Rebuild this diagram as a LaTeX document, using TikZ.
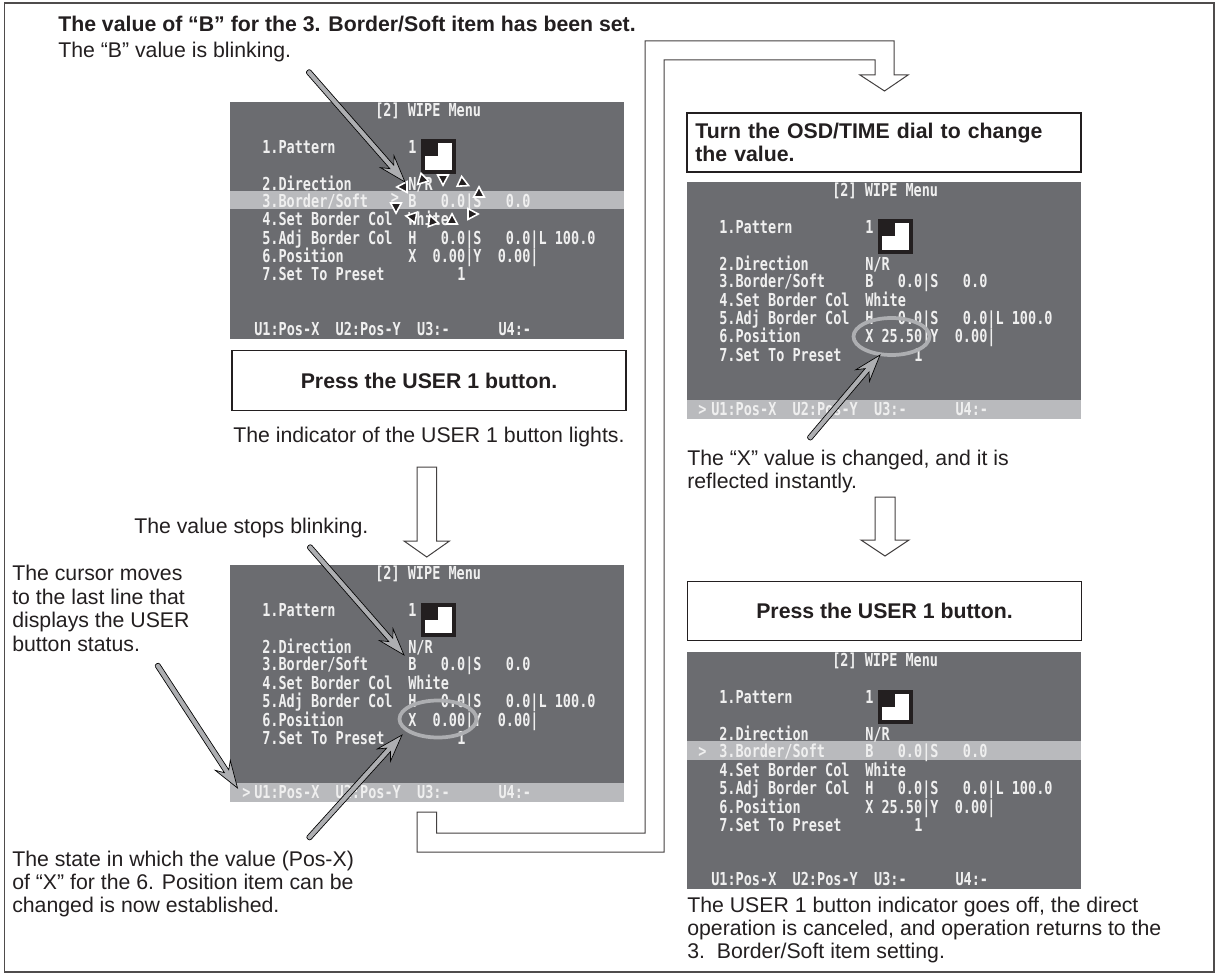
\documentclass[tikz,border=0pt]{standalone}
\usepackage{fontspec}
\usetikzlibrary{calc}
\setmainfont{Liberation Sans}
\newfontfamily\osdfont[FakeStretch=0.757]{DejaVu Sans Mono Bold}
\definecolor{scr}{HTML}{6B6C70}
\definecolor{hl}{HTML}{B9BABD}
\definecolor{ink}{HTML}{231F20}
\definecolor{osdtxt}{HTML}{EFEFEF}
\definecolor{calloutfill}{HTML}{ADAEB1}
\tikzset{
  x=0.75pt,y=-0.75pt,
  txt/.style={inner sep=0pt,anchor=west,align=left,text=ink,font=\fontsize{15.95}{17.6}\selectfont},
  stepbox/.style={draw=ink,line width=1.2pt,fill=white,inner sep=0pt,minimum width=295.5pt,text=ink,font=\fontsize{15.95}{17.6}\selectfont\bfseries},
  osd/.style={inner sep=0pt,anchor=base west,text=osdtxt,font=\osdfont\fontsize{13.4}{14}\selectfont},
  hollow/.style={draw=ink!85,line width=0.75pt,fill=white,line join=miter},
  callout/.style={draw=black,line width=0.5pt,fill=calloutfill,line join=miter},
  ring/.style={draw=calloutfill,line width=2.8pt},
  blink/.style={draw=white,line width=1.2pt,fill=ink,line join=miter},
}
% name, left, top, highlight top, X value line, cursor position
\newcommand{\wipescreen}[6]{%
  \begin{scope}[shift={(#2,#3)}]
    \fill[scr] (0,0) rectangle (394,237);
    \fill[hl] (0,#4) rectangle (394,#4+18.5);
    \node[osd] (#1t) at (145,14.5) {[2] WIPE Menu};
    \node[osd] (#1a) at (32,51.5) {1.Pattern};
    \node[osd] (#1b) at (178,51.5) {1};
    \fill[ink] (190.5,37.5) rectangle (225.5,72);
    \fill[white] (194.5,41.5) rectangle (221.5,68);
    \fill[ink] (194.5,41.5) rectangle (208,54.5);
    \node[osd] (#1c) at (32,88.5) {2.Direction};
    \node[osd] (#1d) at (178,88.5) {N/R};
    \node[osd] (#1e) at (32,105.5) {3.Border/Soft};
    \node[osd] (#1f) at (178,105.5) {B~~~0.0|S~~~0.0};
    \node[osd] (#1g) at (32,124) {4.Set Border Col};
    \node[osd] (#1h) at (178,124) {White};
    \node[osd] (#1i) at (32,142.5) {5.Adj Border Col};
    \node[osd] (#1j) at (178,142.5) {H~~~0.0|S~~~0.0|L 100.0};
    \node[osd] (#1k) at (32,161) {6.Position};
    \node[osd] (#1l) at (178,161) {#5};
    \node[osd] (#1m) at (32,179) {7.Set To Preset};
    \node[osd] (#1n) at (227,179) {1};
    \node[osd] (#1o) at (24,233) {U1:Pos-X~~U2:Pos-Y~~U3:-~~~~~~U4:-};
    \ifx&#6&\else\node[osd] (#1p) at #6 {>};\fi
  \end{scope}}
% gray callout arrow from coordinate to coordinate
\newcommand{\callarrow}[2]{%
  \path let \p1=($(#2)-(#1)$), \n1={atan2(\y1,\x1)}, \n2={veclen(\x1,\y1)} in
    [shift={(#2)},rotate=\n1,callout] (0pt,0pt) -- (-20.25pt,6.75pt) -- (-15pt,1.95pt) -- ({-\n2+1.95pt},1.95pt)
    .. controls ({-\n2},1.95pt) and ({-\n2},-1.95pt) .. ({-\n2+1.95pt},-1.95pt)
    -- (-15pt,-1.95pt) -- (-20.25pt,-6.75pt) -- cycle;}
% hollow down arrow
\newcommand{\hollowarrow}[6]{%
  \draw[hollow] (#1,#3) -- (#2,#3) -- (#2,#4) -- (#2+#5,#4) -- ({(#1+#2)/2},#6) -- (#1-#5,#4) -- (#1,#4) -- cycle;}
\newcommand{\blinkmark}[3]{%
  \path[blink,shift={(#1,#2)},rotate=#3] (6.2,0) -- (-4,5.4) -- (-4,-5.4) -- cycle;}
\begin{document}
\begin{tikzpicture}
\useasboundingbox (0,0) rectangle (1216,973);
\fill[white] (0,0) rectangle (1216,973);
\draw[ink!80,line width=1.1pt] (4.5,3) rectangle (1214,972);

% left column
\node[txt,font=\fontsize{15.95}{17.6}\selectfont\bfseries] (head) at (58,24) {The value of “B” for the 3. Border/Soft item has been set.};
\node[txt] (blinking) at (58,52) {The “B” value is blinking.};
\wipescreen{sa}{230}{102}{89}{X~~0.00|Y~~0.00|}{}
\node[stepbox,minimum height=45pt] (press1) at (429,380.5) {Press the USER 1 button.};
\node[txt] (lights) at (233,437) {The indicator of the USER 1 button lights.};
\node[txt] (stops) at (134,528) {The value stops blinking.};
\node[txt] (cursor) at (12,608.5) {The cursor moves\\to the last line that\\displays the USER\\button status.};
\wipescreen{sb}{230}{565}{218}{X~~0.00|Y~~0.00|}{(12,233)}
\node[txt] (state) at (12,884) {The state in which the value (Pos-X)\\of “X” for the 6. Position item can be\\changed is now established.};

% right column
\node[stepbox,minimum height=44.5pt,align=left,text width=283pt] (turn) at (884,142.5) {Turn the OSD/TIME dial to change\\the value.};
\wipescreen{sc}{687}{182}{218}{X 25.50|Y~~0.00|}{(11,233)}
\node[txt] (changed) at (687,471.5) {The “X” value is changed, and it is\\reflected instantly.};
\node[stepbox,minimum height=44pt] (press2) at (884.5,611) {Press the USER 1 button.};
\wipescreen{sd}{687}{652}{89}{X 25.50|Y~~0.00|}{(11,105.5)}
\node[txt] (off) at (687,930) {The USER 1 button indicator goes off, the direct\\operation is canceled, and operation returns to the\\3.~~Border/Soft item setting.};

% hollow arrows
\hollowarrow{417}{436.5}{467}{541}{13}{557}
\hollowarrow{875}{895}{497}{540}{14}{556}
\coordinate (ja) at (417,812);
\draw[hollow] (ja) -- (436.5,812) -- (436.5,833) -- (645,833) -- (645,41) -- (894,41) -- (894,75) -- (908,75) -- (884.5,91) -- (860,75) -- (875,75) -- (875,60) -- (664,60) -- (664,852) -- (417,852) -- cycle;

% blink marks on the first screen
\node[inner sep=0pt,anchor=base,text=osdtxt,font=\osdfont\fontsize{13.4}{14}\selectfont] (cur) at (395,204) {>};
\blinkmark{403}{187}{180}
\blinkmark{422}{180}{225}
\blinkmark{443}{179}{270}
\blinkmark{463}{183}{335}
\blinkmark{479}{193}{90}
\blinkmark{472}{214}{0}
\blinkmark{452}{220}{90}
\blinkmark{432}{221}{110}
\blinkmark{412}{217}{170}
\blinkmark{396}{207}{270}

% rings
\draw[ring] (438,719) ellipse [x radius=38.5,y radius=18.5];
\draw[ring] (891.5,336.5) ellipse [x radius=38,y radius=18.5];

% callouts
\coordinate (c1a) at (307,70);  \coordinate (c1b) at (405,182);
\coordinate (c2a) at (308,545); \coordinate (c2b) at (404,655);
\coordinate (c3a) at (156,663); \coordinate (c3b) at (237.5,788);
\coordinate (c4a) at (307,840); \coordinate (c4b) at (402,735);
\coordinate (c5a) at (808,440); \coordinate (c5b) at (880,355);
\callarrow{c1a}{c1b}
\callarrow{c2a}{c2b}
\callarrow{c3a}{c3b}
\callarrow{c4a}{c4b}
\callarrow{c5a}{c5b}
\end{tikzpicture}
\end{document}
